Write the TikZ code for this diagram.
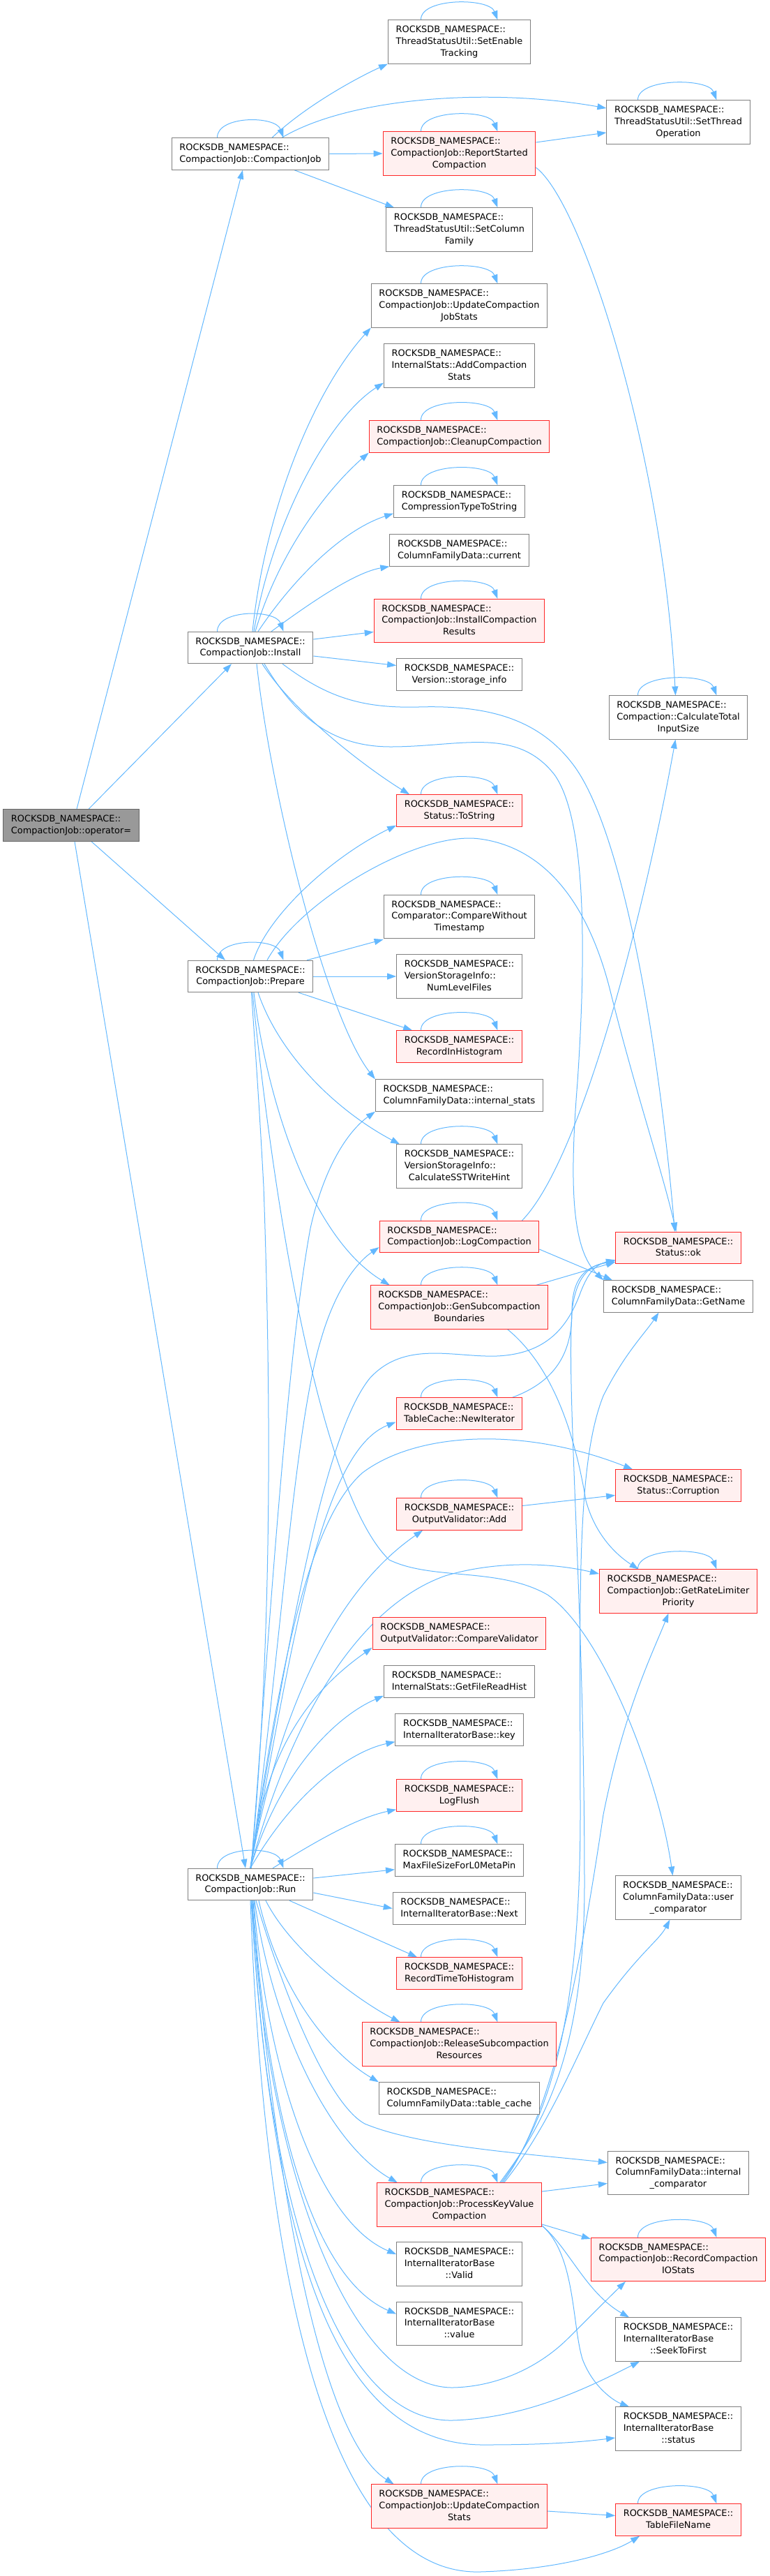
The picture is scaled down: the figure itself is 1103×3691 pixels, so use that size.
\documentclass[tikz,border=0pt]{standalone}
\usepackage{fontspec}
\setmainfont{DejaVu Sans}
\usepackage{tikz}
\usetikzlibrary{arrows.meta}
\definecolor{appel}{RGB}{99,184,255}
\definecolor{cadre}{RGB}{128,128,128}
\definecolor{racine}{RGB}{153,153,153}
\definecolor{rouge}{RGB}{255,40,40}
\definecolor{rose}{RGB}{255,240,240}
\pgfdeclarelayer{fond}
\pgfsetlayers{fond,main}
\newcommand{\nsdeux}[1]{\begin{tabular}{@{}l@{}}ROCKSDB\_NAMESPACE::\\\multicolumn{1}{@{}c@{}}{#1}\end{tabular}}
\newcommand{\nstrois}[2]{\begin{tabular}{@{}l@{}}ROCKSDB\_NAMESPACE::\\#1\\\multicolumn{1}{@{}c@{}}{#2}\end{tabular}}

\begin{document}
\begin{tikzpicture}[x=1pt,y=-1pt,
    fn/.style={draw=cadre,fill=white,line width=1pt,inner xsep=11.2pt,inner ysep=6pt,
               font=\fontsize{12.9}{16.7}\selectfont},
    fnr/.style={fn,draw=rouge,fill=rose},
    fnroot/.style={fn,draw={rgb,255:red,102;green,102;blue,102},fill=racine},
    call/.style={draw=appel,line width=1pt,-{Triangle[length=13pt,width=9pt]}}]
  \useasboundingbox (0,0) rectangle (1103,3691);

  % callers
  \node[fnroot] (opeq) at (102,1182.5) {\nsdeux{CompactionJob::operator=}};
  \node[fn] (ctor) at (359,220.5) {\nsdeux{CompactionJob::CompactionJob}};
  \node[fn] (install) at (359,928) {\nsdeux{CompactionJob::Install}};
  \node[fn] (prepare) at (359,1399) {\nsdeux{CompactionJob::Prepare}};
  \node[fn] (run) at (359,2700) {\nsdeux{CompactionJob::Run}};

  % middle column
  \node[fn] (setenable) at (658.5,60) {\nstrois{ThreadStatusUtil::SetEnable}{Tracking}};
  \node[fnr] (reportstarted) at (658.5,220) {\nstrois{CompactionJob::ReportStarted}{Compaction}};
  \node[fn] (setcolumn) at (658.5,329) {\nstrois{ThreadStatusUtil::SetColumn}{Family}};
  \node[fn] (updatejobstats) at (658.5,438) {\nstrois{CompactionJob::UpdateCompaction}{JobStats}};
  \node[fn] (addcompstats) at (658.5,524) {\nstrois{InternalStats::AddCompaction}{Stats}};
  \node[fnr] (cleanup) at (658.5,625.5) {\nsdeux{CompactionJob::CleanupCompaction}};
  \node[fn] (comptype) at (658.5,718.5) {\nsdeux{CompressionTypeToString}};
  \node[fn] (cfdcurrent) at (658.5,788.5) {\nsdeux{ColumnFamilyData::current}};
  \node[fnr] (installresults) at (658.5,889.5) {\nstrois{CompactionJob::InstallCompaction}{Results}};
  \node[fn] (storageinfo) at (658.5,966.5) {\nsdeux{Version::storage\_info}};
  \node[fnr] (tostring) at (658.5,1161.5) {\nsdeux{Status::ToString}};
  \node[fn] (comparewo) at (658.5,1313.5) {\nstrois{Comparator::CompareWithout}{Timestamp}};
  \node[fn] (numlevel) at (658.5,1399) {\nstrois{VersionStorageInfo::}{NumLevelFiles}};
  \node[fnr] (recordhist) at (658.5,1499.5) {\nsdeux{RecordInHistogram}};
  \node[fn] (internalstats) at (658.5,1569.5) {\nsdeux{ColumnFamilyData::internal\_stats}};
  \node[fn] (sstwritehint) at (658.5,1671) {\nstrois{VersionStorageInfo::}{CalculateSSTWriteHint}};
  \node[fnr] (logcomp) at (658.5,1772) {\nsdeux{CompactionJob::LogCompaction}};
  \node[fnr] (gensub) at (658.5,1873) {\nstrois{CompactionJob::GenSubcompaction}{Boundaries}};
  \node[fnr] (newiter) at (658.5,2025.5) {\nsdeux{TableCache::NewIterator}};
  \node[fnr] (ovadd) at (658.5,2169.5) {\nsdeux{OutputValidator::Add}};
  \node[fnr] (ovcompare) at (658.5,2340.5) {\nsdeux{OutputValidator::CompareValidator}};
  \node[fn] (filereadhist) at (658.5,2409.5) {\nsdeux{InternalStats::GetFileReadHist}};
  \node[fn] (iterkey) at (658.5,2478.5) {\nsdeux{InternalIteratorBase::key}};
  \node[fnr] (logflush) at (658.5,2572.5) {\nsdeux{LogFlush}};
  \node[fn] (maxfilesize) at (658.5,2665.5) {\nsdeux{MaxFileSizeForL0MetaPin}};
  \node[fn] (iternext) at (658.5,2734.5) {\nsdeux{InternalIteratorBase::Next}};
  \node[fnr] (recordtime) at (658.5,2827.5) {\nsdeux{RecordTimeToHistogram}};
  \node[fnr] (releasesub) at (658.5,2929) {\nstrois{CompactionJob::ReleaseSubcompaction}{Resources}};
  \node[fn] (tablecache) at (658.5,3006.5) {\nsdeux{ColumnFamilyData::table\_cache}};
  \node[fnr] (processkv) at (658.5,3159) {\nstrois{CompactionJob::ProcessKeyValue}{Compaction}};
  \node[fn] (itervalid) at (658.5,3244) {\nstrois{InternalIteratorBase}{::Valid}};
  \node[fn] (itervalue) at (658.5,3329.5) {\nstrois{InternalIteratorBase}{::value}};
  \node[fnr] (updatestats) at (658.5,3591) {\nstrois{CompactionJob::UpdateCompaction}{Stats}};

  % right column
  \node[fn] (setthreadop) at (972.5,175) {\nstrois{ThreadStatusUtil::SetThread}{Operation}};
  \node[fn] (calctotal) at (972.5,1028) {\nstrois{Compaction::CalculateTotal}{InputSize}};
  \node[fnr] (statusok) at (972.5,1788) {\nsdeux{Status::ok}};
  \node[fn] (getname) at (972.5,1857.5) {\nsdeux{ColumnFamilyData::GetName}};
  \node[fnr] (corruption) at (972.5,2128.5) {\nsdeux{Status::Corruption}};
  \node[fnr] (ratelimiter) at (972.5,2280) {\nstrois{CompactionJob::GetRateLimiter}{Priority}};
  \node[fn] (usercomp) at (972.5,2719) {\nstrois{ColumnFamilyData::user}{\_comparator}};
  \node[fn] (intcomp) at (972.5,3113.5) {\nstrois{ColumnFamilyData::internal}{\_comparator}};
  \node[fnr] (recordio) at (972.5,3237.5) {\nstrois{CompactionJob::RecordCompaction}{IOStats}};
  \node[fn] (seektofirst) at (972.5,3352) {\nstrois{InternalIteratorBase}{::SeekToFirst}};
  \node[fn] (iterstatus) at (972.5,3480) {\nstrois{InternalIteratorBase}{::status}};
  \node[fnr] (tablefilename) at (972.5,3610.5) {\nsdeux{TableFileName}};

  \begin{pgfonlayer}{fond}
  % self calls
  \foreach \f in {ctor,install,prepare,run}
    \draw[call] ([xshift=-47.5pt]\f.north) .. controls ([xshift=-48pt,yshift=32pt]\f.north)
      and ([xshift=36pt,yshift=32pt]\f.north) .. ([xshift=47.5pt]\f.north);
  \foreach \f in {setenable,reportstarted,setcolumn,updatejobstats,cleanup,comptype,installresults,
                  tostring,comparewo,recordhist,sstwritehint,logcomp,gensub,newiter,ovadd,logflush,
                  maxfilesize,recordtime,releasesub,processkv,updatestats}
    \draw[call] ([xshift=-55pt]\f.north) .. controls ([xshift=-56pt,yshift=32pt]\f.north)
      and ([xshift=43pt,yshift=32pt]\f.north) .. ([xshift=55pt]\f.north);
  \foreach \f in {setthreadop,calctotal,ratelimiter,recordio,tablefilename}
    \draw[call] ([xshift=-58pt]\f.north) .. controls ([xshift=-59pt,yshift=32pt]\f.north)
      and ([xshift=43pt,yshift=32pt]\f.north) .. ([xshift=55pt]\f.north);

  % operator=
  \draw[call] ([xshift=8pt]opeq.north) -- ([xshift=-11pt]ctor.south);
  \draw[call] ([xshift=25pt]opeq.north) -- ([xshift=-27pt]install.south);
  \draw[call] ([xshift=29pt]opeq.south) -- ([xshift=-36pt]prepare.north);
  \draw[call] ([xshift=5pt]opeq.south) -- ([xshift=-7pt]run.north);

  % CompactionJob
  \draw[call] ([xshift=31pt]ctor.north) .. controls (440,150) and (515,110) .. (setenable.south west);
  \draw[call] ([xshift=45pt]ctor.north) .. controls (500,140) and (700,125) .. ([yshift=20pt]setthreadop.west);
  \draw[call] (ctor.east) -- (reportstarted.west);
  \draw[call] ([xshift=63pt]ctor.south) -- ([xshift=12pt]setcolumn.north west);
  \draw[call] ([yshift=16pt]reportstarted.east) -- ([yshift=-15pt]setthreadop.west);
  \draw[call] ([yshift=-20pt]reportstarted.east) .. controls (835,290) and (950,650) .. ([xshift=-4pt]calctotal.north);

  % Install
  \draw[call] ([xshift=3pt]install.north) .. controls (380,730) and (450,560) .. (updatejobstats.south west);
  \draw[call] ([xshift=5pt]install.north) .. controls (390,750) and (470,600) .. ([yshift=7pt]addcompstats.south west);
  \draw[call] ([xshift=7pt]install.north) .. controls (400,790) and (470,700) .. (cleanup.south west);
  \draw[call] ([xshift=11pt]install.north) .. controls (420,830) and (490,760) .. ([yshift=6pt]comptype.south west);
  \draw[call] ([xshift=30pt]install.north) .. controls (450,860) and (510,820) .. (cfdcurrent.south west);
  \draw[call] ([yshift=12pt]install.east) -- ([yshift=-16pt]installresults.west);
  \draw[call] ([yshift=-12pt]install.east) -- ([yshift=13pt]storageinfo.west);
  \draw[call] ([xshift=17pt]install.south) .. controls (420,1020) and (525,1100) .. ([xshift=19pt]tostring.north west);
  \draw[call] ([xshift=9pt]install.south) .. controls (390,1150) and (470,1460) .. (internalstats.north west);
  \draw[call] ([xshift=20pt]install.south) .. controls (420,1020) and (470,1070) .. (560,1070)
      .. controls (660,1070) and (740,1040) .. (795,1110) .. controls (845,1180) and (838,1400) .. (828,1550)
      .. controls (816,1700) and (820,1790) .. (getname.north west);
  \draw[call] ([xshift=46pt]install.south) .. controls (470,1000) and (520,1015) .. (600,1013)
      .. controls (700,1010) and (775,1030) .. (825,1100) .. controls (895,1200) and (945,1500) .. ([xshift=-5pt]statusok.north);

  % Prepare
  \draw[call] ([xshift=24pt]prepare.north) .. controls (430,1290) and (600,1190) .. (688,1202)
      .. controls (785,1215) and (845,1300) .. (875,1420) .. controls (910,1560) and (950,1680) .. ([xshift=-3pt]statusok.north);
  \draw[call] ([xshift=81pt]prepare.north) -- ([yshift=-1pt]comparewo.south west);
  \draw[call] (prepare.east) -- (numlevel.west);
  \draw[call] ([xshift=69pt]prepare.south) -- ([xshift=23pt]recordhist.north west);
  \draw[call] ([xshift=11pt]prepare.south) .. controls (400,1510) and (480,1590) .. ([xshift=5pt]sstwritehint.north west);
  \draw[call] ([xshift=5pt]prepare.south) .. controls (380,1560) and (440,1770) .. ([xshift=28pt]gensub.north west);
  \draw[call] ([xshift=3pt]prepare.south) .. controls (400,1800) and (470,2150) .. (558,2235)
      .. controls (620,2265) and (715,2245) .. (785,2285) .. controls (865,2340) and (945,2550) .. ([xshift=-8pt]usercomp.north);

  % LogCompaction, GenSubcompactionBoundaries, NewIterator, Add
  \draw[call] ([xshift=90pt]logcomp.north) .. controls (835,1660) and (925,1300) .. ([xshift=-4pt]calctotal.south);
  \draw[call] ([yshift=-18pt]logcomp.east) -- ([xshift=13pt]getname.north west);
  \draw[call] ([xshift=110pt]gensub.north) -- ([yshift=3pt]statusok.south west);
  \draw[call] ([xshift=69pt]gensub.south) .. controls (795,1960) and (825,2060) .. (840,2150)
      .. controls (855,2205) and (890,2232) .. ([xshift=-57pt]ratelimiter.north);
  \draw[call] ([xshift=76pt]newiter.north) .. controls (795,1980) and (820,1940) .. (820,1880)
      .. controls (820,1830) and (840,1815) .. ([yshift=5pt]statusok.south west);
  \draw[call] ([yshift=12pt]ovadd.east) -- ([yshift=-14pt]corruption.west);
  \draw[call] ([yshift=-7pt]updatestats.east) -- ([yshift=6pt]tablefilename.west);

  % ProcessKeyValueCompaction
  \draw[call] ([yshift=19pt]processkv.east) -- ([yshift=-15pt]intcomp.west);
  \draw[call] ([yshift=-28pt]processkv.east) -- ([yshift=-2pt]recordio.north west);
  \draw[call] ([yshift=-30pt]processkv.east) .. controls (815,3220) and (840,3285) .. ([xshift=20pt]seektofirst.north west);
  \draw[call] ([yshift=-30pt]processkv.east) .. controls (825,3230) and (820,3330) .. (835,3380)
      .. controls (850,3420) and (880,3440) .. ([xshift=20pt]iterstatus.north west);
  \draw[call] ([xshift=58pt]processkv.north) .. controls (775,3050) and (838,2950) .. (838,2700)
      .. controls (838,2300) and (812,2000) .. (820,1880) .. controls (825,1830) and (845,1812) .. ([yshift=3pt]statusok.south west);
  \draw[call] ([xshift=60pt]processkv.north) .. controls (785,3040) and (832,2900) .. (832,2600)
      .. controls (832,2300) and (825,2100) .. (865,2000) .. controls (895,1940) and (925,1910) .. ([xshift=-28pt]getname.south);
  \draw[call] ([xshift=62pt]processkv.north) .. controls (795,3030) and (835,2800) .. (865,2600)
      .. controls (895,2450) and (935,2370) .. ([xshift=-14pt]ratelimiter.south);
  \draw[call] ([xshift=64pt]processkv.north) .. controls (785,3050) and (825,2950) .. (865,2870)
      .. controls (915,2800) and (945,2780) .. ([xshift=-12pt]usercomp.south);

  % Run
  \draw[call] ([xshift=1pt]run.north) .. controls (385,2400) and (392,2100) .. (378,1700)
      .. controls (370,1550) and (362,1450) .. (prepare.center) .. controls (362,1330) and (470,1230) .. ([yshift=2pt]tostring.south west);
  \draw[call] ([xshift=1pt]run.north) .. controls (385,2350) and (410,1950) .. (445,1760)
      .. controls (465,1670) and (500,1620) .. (internalstats.south west);
  \draw[call] (run.north) .. controls (400,2400) and (420,2050) .. (460,1920)
      .. controls (480,1850) and (510,1810) .. ([yshift=-15pt]logcomp.west);
  \draw[call] (run.north) .. controls (420,2300) and (470,2050) .. (530,1975)
      .. controls (580,1920) and (650,1945) .. (712,1943) .. controls (785,1940) and (815,1900) .. (833,1850)
      .. controls (843,1825) and (853,1812) .. ([yshift=6pt]statusok.south west);
  \draw[call] (run.north) .. controls (420,2350) and (460,2080) .. ([yshift=-12pt]newiter.west);
  \draw[call] (run.north) .. controls (400,2400) and (440,2180) .. (520,2110)
      .. controls (600,2050) and (755,2045) .. ([xshift=25pt]corruption.north west);
  \draw[call] (run.north) .. controls (400,2450) and (480,2280) .. ([xshift=38pt]ovadd.south west);
  \draw[call] (run.north) .. controls (420,2450) and (520,2300) .. (638,2258)
      .. controls (715,2235) and (795,2240) .. ([yshift=25pt]ratelimiter.west);
  \draw[call] (run.north) .. controls (380,2500) and (450,2420) .. ([yshift=3pt]ovcompare.south west);
  \draw[call] (run.north) .. controls (400,2540) and (480,2460) .. ([yshift=3pt]filereadhist.south west);
  \draw[call] (run.north) .. controls (420,2570) and (500,2510) .. ([yshift=6pt]iterkey.south west);
  \draw[call] ([xshift=32pt]run.north) .. controls (450,2640) and (510,2605) .. ([yshift=3pt]logflush.south west);
  \draw[call] ([yshift=9pt]run.east) -- ([yshift=10pt]maxfilesize.south west);
  \draw[call] ([yshift=-12pt]run.east) -- (iternext.west);
  \draw[call] ([xshift=56pt]run.south) -- ([xshift=30pt]recordtime.north west);
  \draw[call] ([xshift=22pt]run.south) .. controls (420,2800) and (520,2870) .. ([xshift=55pt]releasesub.north west);
  \draw[call] ([xshift=12pt]run.south) .. controls (400,2850) and (470,2940) .. (tablecache.north west);
  \draw[call] ([xshift=8pt]run.south) .. controls (420,2900) and (480,3020) .. (523,3043)
      .. controls (600,3075) and (745,3085) .. ([yshift=15pt]intcomp.west);
  \draw[call] ([xshift=6pt]run.south) .. controls (390,2900) and (470,3070) .. ([xshift=30pt]processkv.north west);
  \draw[call] ([xshift=5pt]run.south) .. controls (380,2950) and (450,3180) .. ([yshift=14pt]itervalid.west);
  \draw[call] ([xshift=4pt]run.south) .. controls (380,3000) and (440,3260) .. ([yshift=14pt]itervalue.west);
  \draw[call] ([xshift=3pt]run.south) .. controls (380,3100) and (500,3420) .. (648,3421)
      .. controls (715,3420) and (775,3390) .. (815,3350) .. controls (845,3320) and (875,3290) .. ([xshift=50pt]recordio.south west);
  \draw[call] ([xshift=2pt]run.south) .. controls (380,3150) and (480,3470) .. (648,3468)
      .. controls (755,3465) and (845,3420) .. ([xshift=35pt]seektofirst.south west);
  \draw[call] ([xshift=1pt]run.south) .. controls (390,3200) and (470,3500) .. (690,3503)
      .. controls (775,3503) and (825,3500) .. ([yshift=-13pt]iterstatus.west);
  \draw[call] ([xshift=2pt]run.south) .. controls (400,3200) and (470,3500) .. ([xshift=33pt]updatestats.north west);
  \draw[call] (run.south) .. controls (380,3300) and (480,3690) .. (688,3685)
      .. controls (795,3682) and (875,3660) .. ([xshift=35pt]tablefilename.south west);
  \end{pgfonlayer}
\end{tikzpicture}
\end{document}
